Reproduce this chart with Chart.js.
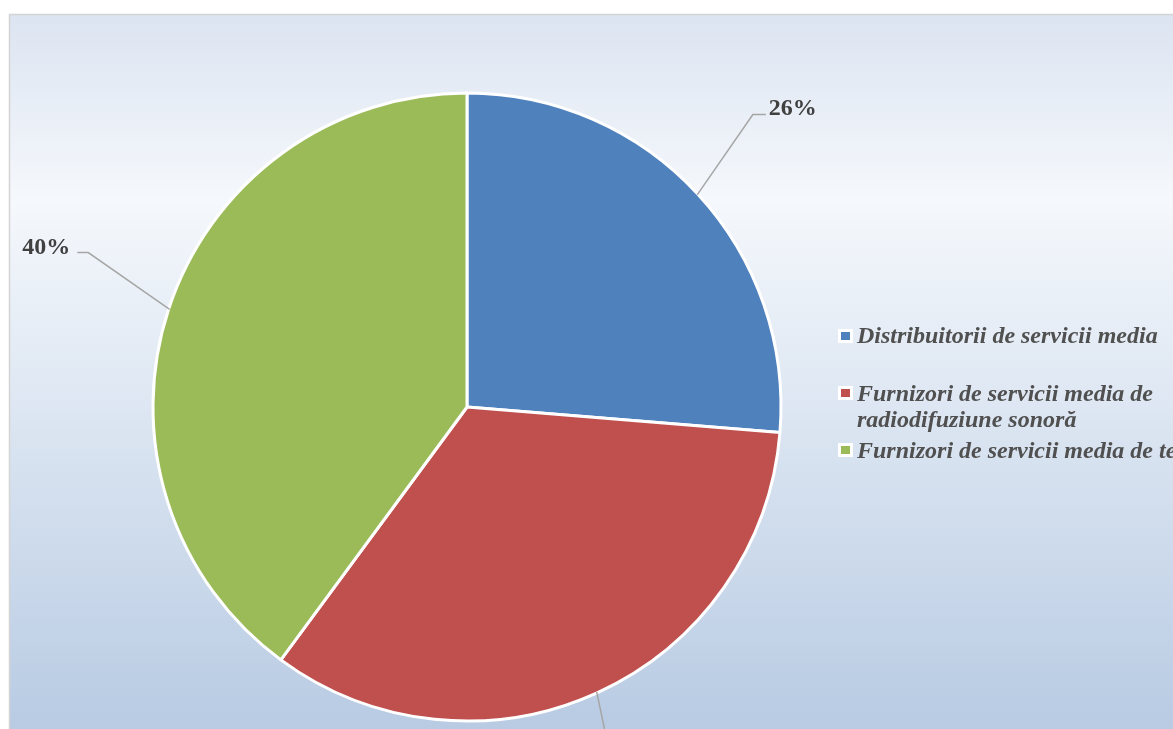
<!DOCTYPE html>
<html>
<head>
<meta charset="utf-8">
<script src="https://cdn.jsdelivr.net/npm/chart.js@4.4.1/dist/chart.umd.min.js"></script>
<style>
html,body{margin:0;padding:0;background:#ffffff;overflow:hidden;}
canvas{display:block;}
</style>
</head>
<body>
<canvas id="c" width="1173" height="729"></canvas>
<script>
const categories = [
  "Distribuitorii de servicii media",
  "Furnizori de servicii media de radiodifuziune sonoră",
  "Furnizori de servicii media de televiziune"
];
const legendLines = [
  ["Distribuitorii de servicii media"],
  ["Furnizori de servicii media de", "radiodifuziune sonoră"],
  ["Furnizori de servicii media de televiziune"]
];
const values = [26.3, 33.8, 39.9];
const valueLabels = ["26%", "34%", "40%"];
const colors = ["#4F81BD", "#C0504D", "#9BBB59"];

const bgPlugin = {
  id: 'bg',
  beforeDraw(chart) {
    const ctx = chart.ctx;
    ctx.save();
    const x0 = 9.5, y0 = 14.5;
    const g = ctx.createLinearGradient(0, y0, 0, 729);
    g.addColorStop(0, '#dce4f1');
    g.addColorStop(0.26, '#f5f8fc');
    g.addColorStop(1, '#b8cbe3');
    ctx.fillStyle = g;
    ctx.fillRect(x0, y0, 1173, 729);
    ctx.strokeStyle = '#d4d4d4';
    ctx.lineWidth = 1.5;
    ctx.beginPath();
    ctx.moveTo(x0, 740);
    ctx.lineTo(x0, y0);
    ctx.lineTo(1180, y0);
    ctx.stroke();
    ctx.restore();
  }
};

const leaderAngleOffsetDeg = [-3, 3, 4];

const labelPlugin = {
  id: 'labels',
  afterDatasetsDraw(chart) {
    const ctx = chart.ctx;
    const meta = chart.getDatasetMeta(0);
    ctx.save();
    meta.data.forEach((arc, i) => {
      const p = arc.getProps(['x','y','startAngle','endAngle','outerRadius'], true);
      const mid = (p.startAngle + p.endAngle) / 2;
      const r = p.outerRadius;
      const sx = p.x + Math.cos(mid) * (r - 1);
      const sy = p.y + Math.sin(mid) * (r - 1);
      const a2 = mid + leaderAngleOffsetDeg[i] * Math.PI / 180;
      const ex = p.x + Math.cos(a2) * (r + 95);
      const ey = p.y + Math.sin(a2) * (r + 95);
      const right = Math.cos(mid) >= 0;
      const hx = ex + (right ? 13 : -11);
      ctx.strokeStyle = '#a6a6a6';
      ctx.lineWidth = 1.5;
      ctx.beginPath();
      ctx.moveTo(sx, sy);
      ctx.lineTo(ex, ey);
      ctx.lineTo(hx, ey);
      ctx.stroke();
      ctx.fillStyle = '#404040';
      ctx.font = 'bold 24px "Liberation Serif", "Times New Roman", serif';
      ctx.textBaseline = 'alphabetic';
      ctx.textAlign = right ? 'left' : 'right';
      ctx.fillText(valueLabels[i], hx + (right ? 3 : -7), ey + 1);
    });
    // legend
    const lx = 845;
    const boxY = [336, 393, 450];
    const baseY = [343, 401, 458];
    ctx.font = 'italic bold 24px "Liberation Serif", "Times New Roman", serif';
    ctx.textAlign = 'left';
    ctx.textBaseline = 'alphabetic';
    legendLines.forEach((lines, i) => {
      const y = boxY[i];
      ctx.fillStyle = '#ffffff';
      ctx.fillRect(lx - 7, y - 7, 15, 14);
      ctx.fillStyle = colors[i];
      ctx.fillRect(lx - 4, y - 4, 9, 8);
      ctx.fillStyle = '#505050';
      lines.forEach((t, k) => ctx.fillText(t, lx + 12, baseY[i] + k * 26));
    });
    ctx.restore();
  }
};

new Chart(document.getElementById('c'), {
  type: 'pie',
  data: {
    labels: categories,
    datasets: [{
      data: values,
      backgroundColor: colors,
      borderColor: '#ffffff',
      borderWidth: 3
    }]
  },
  options: {
    responsive: false,
    animation: false,
    radius: 314,
    layout: { padding: { left: 100, right: 339, top: 100, bottom: 15 } },
    plugins: { legend: { display: false }, tooltip: { enabled: false } }
  },
  plugins: [bgPlugin, labelPlugin]
});
</script>
</body>
</html>
